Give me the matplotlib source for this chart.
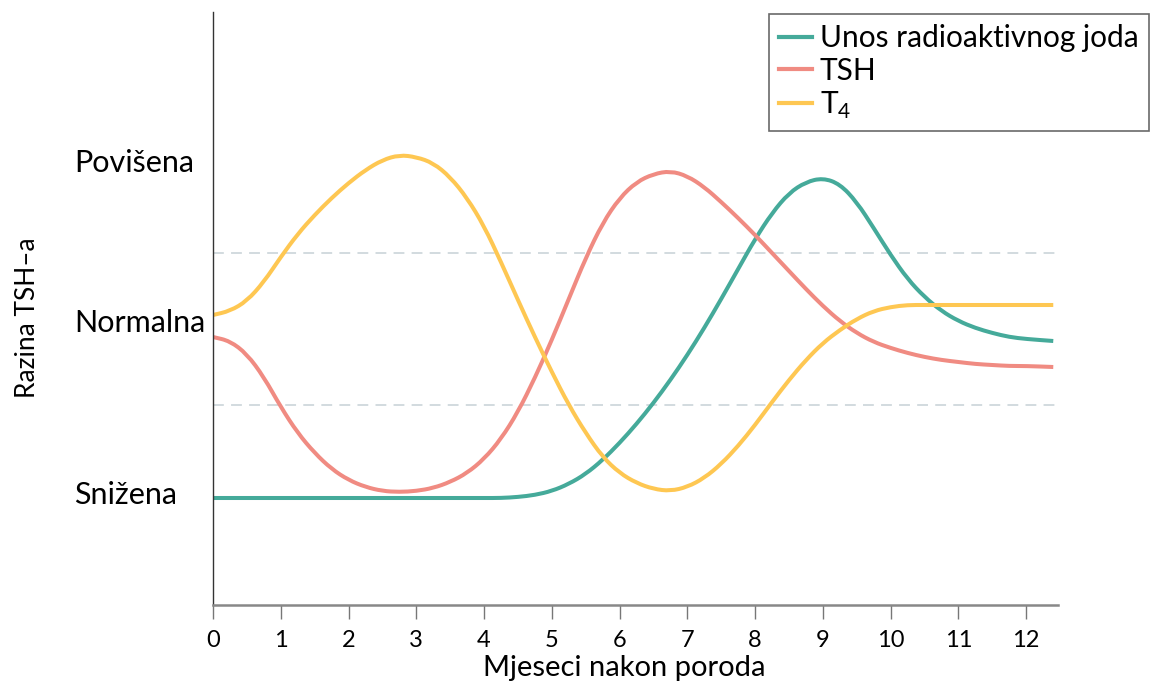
import matplotlib
matplotlib.use("Agg")
import matplotlib.pyplot as plt
import matplotlib.transforms as mtransforms
from matplotlib.path import Path
from matplotlib.patches import PathPatch
from matplotlib.lines import Line2D

# months after delivery (shared x for all three curves)
months = [0, 0.25, 0.5, 0.75, 1, 1.25, 1.5, 1.75, 2, 2.25, 2.5, 2.75,
          3, 3.25, 3.5, 3.75, 4, 4.25, 4.5, 4.75, 5, 5.25, 5.5, 5.75,
          6, 6.25, 6.5, 6.75, 7, 7.25, 7.5, 7.75, 8, 8.25, 8.5, 8.75,
          9, 9.25, 9.5, 9.75, 10, 10.25, 10.5, 10.75, 11, 11.25, 11.5, 11.75,
          12, 12.4]

# relative levels
iodine_uptake = [10.7, 10.7, 10.7, 10.7, 10.7, 10.7, 10.7, 10.7, 10.7, 10.7, 10.7, 10.7,
                 10.7, 10.7, 10.7, 10.7, 10.7, 10.7, 10.8, 11.0, 11.4, 12.1, 13.1, 14.5,
                 16.2, 18.1, 20.2, 22.5, 25.0, 27.7, 30.6, 33.6, 36.6, 39.2, 41.2, 42.3,
                 42.7, 42.1, 40.3, 37.7, 35.0, 32.6, 30.8, 29.4, 28.4, 27.7, 27.2, 26.8,
                 26.6, 26.4]
tsh = [26.8, 26.4, 25.1, 22.8, 19.8, 17.2, 15.2, 13.6, 12.5, 11.8, 11.4, 11.3,
       11.4, 11.7, 12.3, 13.2, 14.6, 16.6, 19.3, 22.7, 26.5, 30.6, 34.7, 38.2,
       40.7, 42.3, 43.1, 43.4, 42.9, 41.8, 40.3, 38.7, 37.0, 35.2, 33.4, 31.6,
       29.9, 28.4, 27.2, 26.3, 25.7, 25.2, 24.8, 24.5, 24.3, 24.1, 24.0, 23.9,
       23.9, 23.8]
t4 = [29.0, 29.4, 30.4, 32.3, 34.8, 37.1, 39.0, 40.7, 42.2, 43.5, 44.5, 45.0,
      44.8, 44.2, 42.8, 40.7, 37.9, 34.3, 30.5, 26.8, 23.3, 20.0, 17.2, 14.8,
      13.2, 12.2, 11.6, 11.4, 11.8, 12.7, 14.1, 15.9, 18.0, 20.3, 22.5, 24.5,
      26.2, 27.5, 28.6, 29.4, 29.8, 30.0, 30.0, 30.0, 30.0, 30.0, 30.0, 30.0,
      30.0, 30.0]

series_labels = ["Unos radioaktivnog joda", "TSH", "T$_4$"]
normal_range = [20.0, 35.2]
level_names = ["Povišena", "Normalna", "Snižena"]
level_pos = [44.2, 28.2, 11.0]
x_ticks = list(range(13))


def smooth_path(xs, ys):
    """Quadratic bezier through segment midpoints, data points as controls."""
    pts = list(zip(xs, ys))
    mid = lambda a, b: ((a[0] + b[0]) / 2, (a[1] + b[1]) / 2)
    verts = [pts[0], mid(pts[0], pts[1])]
    codes = [Path.MOVETO, Path.LINETO]
    for i in range(1, len(pts) - 1):
        verts += [pts[i], mid(pts[i], pts[i + 1])]
        codes += [Path.CURVE3, Path.CURVE3]
    verts.append(pts[-1])
    codes.append(Path.LINETO)
    return Path(verts, codes)


plt.rcParams["font.family"] = ["Lato", "DejaVu Sans"]
plt.rcParams["mathtext.fontset"] = "custom"
plt.rcParams["mathtext.rm"] = "Lato"

fig = plt.figure(figsize=(11.6, 6.86), dpi=100)
ax = fig.add_axes([213 / 1160, 81 / 686, 845 / 1160, 593 / 686])

colors = ["#45aa9a", "#f08b82", "#fec752"]
handles = []
for y_vals, lab, col in zip([iodine_uptake, tsh, t4], series_labels, colors):
    patch = PathPatch(smooth_path(months, y_vals), facecolor="none",
                      edgecolor=col, lw=2.9, capstyle="butt", zorder=2)
    ax.add_patch(patch)
    handles.append(Line2D([], [], color=col, lw=3, label=lab))

for lvl in normal_range:
    ax.axhline(lvl, color="#cfd8dc", lw=1.3, ls=(0, (6, 4)), zorder=0)

ax.set_xlim(0, 12.47)
ax.set_ylim(0, 59.3)
ax.set_xticks(x_ticks)
ax.set_yticks([])
ax.tick_params(axis="x", length=10, width=1, color="#777777", labelsize=17,
               pad=8)

for side in ["top", "right"]:
    ax.spines[side].set_visible(False)
ax.spines["left"].set_color("#333333")
ax.spines["left"].set_linewidth(1)
ax.spines["bottom"].set_color("#888888")
ax.spines["bottom"].set_linewidth(1.8)

ax.set_xlabel("Mjeseci nakon poroda", fontsize=21)
ax.xaxis.set_label_coords(0.487, -0.085)

fig.text(28 / 1160, 1 - 318 / 686, "Razina TSH–a", rotation=90,
         fontsize=19, ha="center", va="center")

trans = mtransforms.blended_transform_factory(fig.transFigure, ax.transData)
for name, pos in zip(level_names, level_pos):
    ax.text(74 / 1160, pos, name, transform=trans, fontsize=22,
            ha="left", va="center")

leg = ax.legend(handles=handles, loc="upper right",
                bbox_to_anchor=(1149 / 1160, 1 - 14 / 686),
                bbox_transform=fig.transFigure, fontsize=21.5, frameon=True,
                fancybox=False, handlelength=1.1, handletextpad=0.25,
                labelspacing=0.15, borderpad=0.35, borderaxespad=0)
leg.get_frame().set_edgecolor("#444444")
leg.get_frame().set_linewidth(1.2)

fig.savefig("out.png", dpi=100)
